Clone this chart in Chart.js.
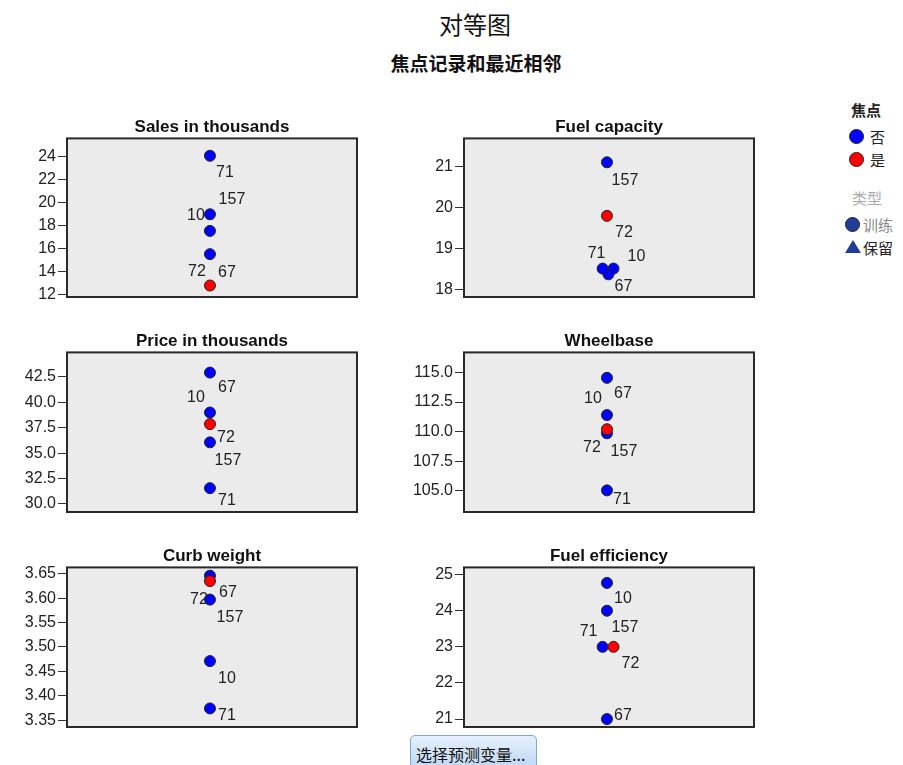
<!DOCTYPE html>
<html>
<head>
<meta charset="utf-8">
<script src="https://cdn.jsdelivr.net/npm/chart.js@4.4.0/dist/chart.umd.min.js"></script>
<style>
  body { margin: 0; background: #fff; width: 903px; height: 765px; overflow: hidden; position: relative;
         font-family: "Liberation Sans", Arial, sans-serif; }
  .abs { position: absolute; }
  .cjk { font-family: "Noto Sans CJK SC", sans-serif; white-space: nowrap; }
  .dot { position: absolute; width: 15px; height: 15px; border-radius: 50%; box-sizing: border-box; border: 1px solid #222; }
  #btn { left: 410px; top: 735px; width: 127px; height: 40px; box-sizing: border-box; border: 1px solid #7fa6d6;
         border-radius: 5px; background: linear-gradient(#e6f0fc, #b7d3f4); }
</style>
</head>
<body>
<div class="abs cjk" style="left:375px;top:12px;width:200px;text-align:center;font-size:24px;line-height:24px;color:#111;">对等图</div>
<div class="abs cjk" style="left:376px;top:53px;width:200px;text-align:center;font-size:19px;line-height:20px;font-weight:bold;color:#111;">焦点记录和最近相邻</div>

<!-- legend -->
<div class="abs cjk" style="left:851px;top:102px;font-size:15px;line-height:16px;font-weight:bold;color:#222;">焦点</div>
<div class="dot" style="left:849px;top:129px;background:#0000ff;"></div>
<div class="abs cjk" style="left:870px;top:129px;font-size:15px;line-height:16px;color:#222;">否</div>
<div class="dot" style="left:849px;top:152px;background:#ff0000;"></div>
<div class="abs cjk" style="left:870px;top:152px;font-size:15px;line-height:16px;color:#222;">是</div>
<div class="abs cjk" style="left:852px;top:190px;font-size:15px;line-height:16px;color:#aaa;">类型</div>
<div class="dot" style="left:845px;top:217px;background:#1f3d99;"></div>
<div class="abs cjk" style="left:863px;top:217px;font-size:15px;line-height:16px;color:#888;">训练</div>
<div class="abs" style="left:845px;top:240px;width:0;height:0;border-left:8px solid transparent;border-right:8px solid transparent;border-bottom:13px solid #1f3d99;"></div>
<div class="abs cjk" style="left:863px;top:240px;font-size:15px;line-height:16px;color:#222;">保留</div>

<div class="abs" id="btn"><div class="cjk" style="padding:10px 0 0 5px;font-size:16px;line-height:16px;color:#111;">选择预测变量...</div></div>

<canvas class="abs" id="c1" width="360" height="184" style="left:0px;top:116px;"></canvas>
<canvas class="abs" id="c2" width="360" height="184" style="left:397px;top:116px;"></canvas>
<canvas class="abs" id="c3" width="360" height="185" style="left:0px;top:330px;"></canvas>
<canvas class="abs" id="c4" width="360" height="185" style="left:397px;top:330px;"></canvas>
<canvas class="abs" id="c5" width="360" height="185" style="left:0px;top:545px;"></canvas>
<canvas class="abs" id="c6" width="360" height="185" style="left:397px;top:545px;"></canvas>

<script>
// case order for every array below
const caseIds = [10, 67, 71, 72, 157];
const isFocal = [false, false, false, true, false];

const salesK    = [17.55, 15.53, 24.09, 12.8, 19.0];
const fuelCap   = [18.52, 18.38, 18.52, 19.8, 21.1];
const fuelCapX  = [0.045, 0.01, -0.03, 0, 0];
const priceK    = [39.0, 42.93, 31.55, 37.86, 36.06];
const wheelbase = [111.4, 114.55, 105.03, 110.2, 109.86];
const curbWt    = [3.471, 3.646, 3.374, 3.635, 3.597];
const fuelEff   = [24.77, 21.0, 23.0, 23.0, 24.0];
const fuelEffX  = [0, 0, -0.03, 0.045, 0];
const noJitter  = [0, 0, 0, 0, 0];

const salesTicks = [12, 14, 16, 18, 20, 22, 24];
const capTicks   = [18, 19, 20, 21];
const priceTicks = [30, 32.5, 35, 37.5, 40, 42.5];
const wheelTicks = [105, 107.5, 110, 112.5, 115];
const curbTicks  = [3.35, 3.40, 3.45, 3.50, 3.55, 3.60, 3.65];
const effTicks   = [21, 22, 23, 24, 25];

// label offsets (px) from each point, same case order
const labelOffsets = {
  sales: [[-14, -15], [17, 18], [15, 17], [-13, -14], [22, -15]],
  cap:   [[23, -12], [15, 12], [-6, -15], [17, 17], [18, 18]],
  price: [[-14, -15], [17, 15], [17, 12], [16, 14], [18, 18]],
  wheel: [[-14, -16], [16, 16], [15, 9], [-15, 18], [17, 18]],
  curb:  [[17, 17], [18, 17], [17, 7], [-11, 19], [20, 18]],
  eff:   [[16, 16], [16, -3], [-14, -15], [17, 17], [18, 17]]
};

Chart.defaults.font.family = '"Liberation Sans", Arial, sans-serif';

const panelBox = {
  id: 'panelBox',
  beforeDatasetsDraw(chart) {
    const a = chart.chartArea, ctx = chart.ctx;
    ctx.save();
    ctx.fillStyle = '#ebebeb';
    ctx.fillRect(a.left, a.top, a.right - a.left, a.bottom - a.top);
    ctx.strokeStyle = '#2a2a2a';
    ctx.lineWidth = 2;
    ctx.strokeRect(a.left, a.top, a.right - a.left, a.bottom - a.top);
    ctx.restore();
  },
  afterDatasetsDraw(chart) {
    const ctx = chart.ctx;
    const offs = chart.options.plugins.panelBox.offsets;
    ctx.save();
    ctx.font = '16px "Liberation Sans", Arial, sans-serif';
    ctx.fillStyle = '#222';
    ctx.textAlign = 'center';
    ctx.textBaseline = 'middle';
    chart.data.datasets.forEach((ds, di) => {
      chart.getDatasetMeta(di).data.forEach((pt, i) => {
        const k = ds.caseIdx[i];
        ctx.fillText(String(caseIds[k]), pt.x + offs[k][0], pt.y + offs[k][1]);
      });
    });
    ctx.restore();
  }
};

function createPanel(id, title, values, xs, ticks, decimals, min, max, offsets) {
  const focalIdx = [], otherIdx = [];
  caseIds.forEach((c, i) => (isFocal[i] ? focalIdx : otherIdx).push(i));
  const toPts = idx => idx.map(i => ({ x: xs[i], y: values[i] }));
  new Chart(document.getElementById(id), {
    type: 'scatter',
    data: {
      datasets: [
        { data: toPts(focalIdx), caseIdx: focalIdx, backgroundColor: '#ff0000' },
        { data: toPts(otherIdx), caseIdx: otherIdx, backgroundColor: '#0000ff' }
      ]
    },
    options: {
      responsive: false,
      devicePixelRatio: 1,
      animation: false,
      events: [],
      clip: false,
      layout: { autoPadding: false, padding: { top: 0, bottom: 3, right: 3, left: 0 } },
      elements: { point: { radius: 5.5, borderWidth: 1, borderColor: '#222', hoverRadius: 5.5 } },
      plugins: {
        legend: { display: false },
        tooltip: { enabled: false },
        title: {
          display: true, text: title, fullSize: false, color: '#111',
          font: { size: 17, weight: 'bold' }, padding: { top: 1, bottom: 1 }
        },
        panelBox: { offsets: offsets }
      },
      scales: {
        x: { type: 'linear', min: -0.986, max: 1.014, display: false },
        y: {
          type: 'linear', min: min, max: max,
          afterBuildTicks: s => { s.ticks = ticks.map(v => ({ value: v })); },
          afterFit: s => { s.width = 67; s.paddingTop = 0; s.paddingBottom = 0; },
          ticks: { font: { size: 16 }, color: '#222', padding: 2, callback: v => Number(v).toFixed(decimals) },
          grid: { drawOnChartArea: false, drawTicks: true, tickLength: 9, color: '#333', lineWidth: 1 },
          border: { display: false }
        }
      }
    },
    plugins: [panelBox]
  });
}

createPanel('c1', 'Sales in thousands', salesK, noJitter, salesTicks, 0, 11.8, 25.6, labelOffsets.sales);
createPanel('c2', 'Fuel capacity', fuelCap, fuelCapX, capTicks, 0, 17.83, 21.68, labelOffsets.cap);
createPanel('c3', 'Price in thousands', priceK, noJitter, priceTicks, 1, 29.2, 44.92, labelOffsets.price);
createPanel('c4', 'Wheelbase', wheelbase, noJitter, wheelTicks, 1, 103.2, 116.7, labelOffsets.wheel);
createPanel('c5', 'Curb weight', curbWt, noJitter, curbTicks, 2, 3.336, 3.663, labelOffsets.curb);
createPanel('c6', 'Fuel efficiency', fuelEff, fuelEffX, effTicks, 0, 20.78, 25.2, labelOffsets.eff);
</script>
</body>
</html>
